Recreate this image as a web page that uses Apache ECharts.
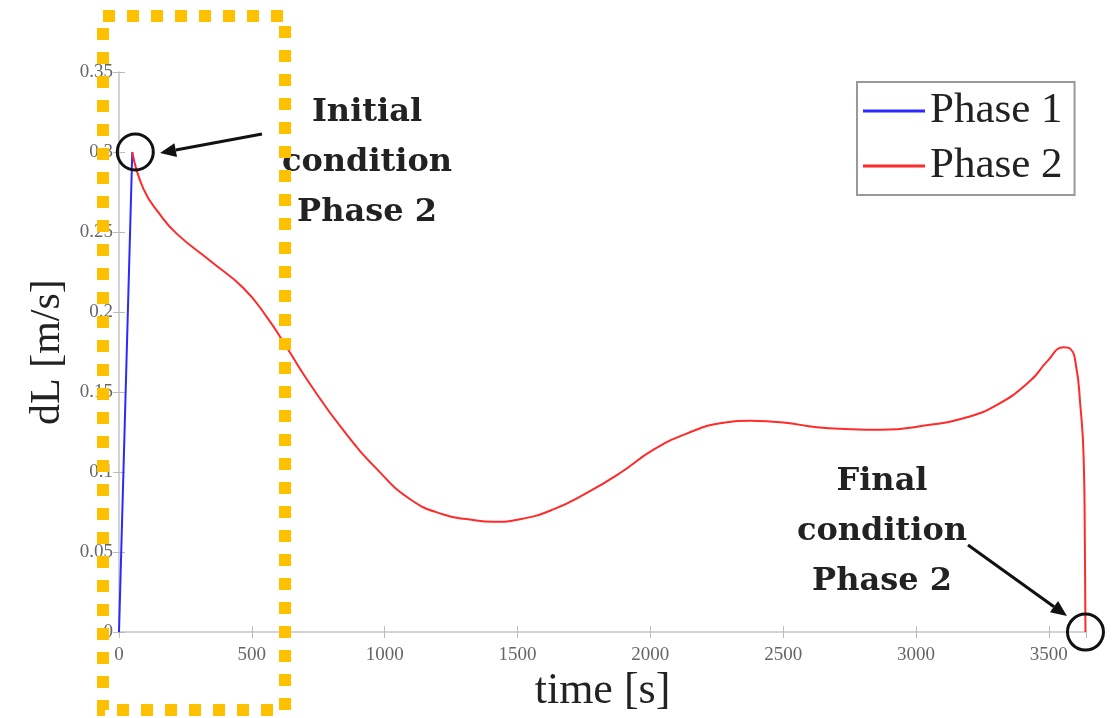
<!DOCTYPE html>
<html>
<head>
<meta charset="utf-8">
<script src="https://cdn.jsdelivr.net/npm/echarts@6/dist/echarts.min.js"></script>
<style>
  html, body { margin: 0; padding: 0; background: #fff; }
  #chart { width: 1119px; height: 718px; }
</style>
</head>
<body>
<div id="chart"></div>
<script>
// phase 1: ramp up
const phase1Time = [0, 50]
const phase1Speed = [0, 0.3]

// phase 2
const phase2Time = [50, 92, 154, 217, 343, 468, 556, 631, 719, 845, 970, 1096, 1221, 1322, 1409, 1510,
  1635, 1761, 1886, 2012, 2137, 2263, 2376, 2501, 2627, 2752, 2865, 3053, 3179, 3305, 3430, 3493,
  3556, 3581, 3603, 3618, 3631, 3636, 3638]
const phase2Speed = [0.3, 0.277, 0.261, 0.249, 0.232, 0.215, 0.197, 0.178, 0.155, 0.126, 0.102, 0.083, 0.0735, 0.0703, 0.0689, 0.0705,
  0.0767, 0.087, 0.0994, 0.114, 0.124, 0.1305, 0.132, 0.131, 0.128, 0.1268, 0.1264, 0.1295, 0.1336, 0.142, 0.157, 0.169,
  0.178, 0.177, 0.166, 0.143, 0.11, 0.05, 0]

const seriesNames = ['Phase 1', 'Phase 2']
const initialNote = ['Initial', 'condition', 'Phase 2']
const finalNote = ['Final', 'condition', 'Phase 2']

const zip = (xs, ys) => xs.map((x, i) => [x, ys[i]])

const serif = 'Liberation Serif'
const boxColor = '#cfcfcf'

let chart = echarts.init(document.getElementById('chart'))

const hiddenAxis = {
  axisLine: { show: true, lineStyle: { color: boxColor, width: 1.5 } },
  axisTick: { show: true, inside: true, length: 6, lineStyle: { color: '#bbb' } },
  axisLabel: { show: false },
  splitLine: { show: false },
}

chart.setOption({
  backgroundColor: '#fff',
  animation: false,
  grid: { left: 119, right: 33, top: 72, bottom: 81 },
  legend: {
    data: seriesNames,
    orient: 'vertical',
    left: 857,
    top: 82,
    icon: 'rect',
    itemWidth: 62,
    itemHeight: 3,
    itemGap: 7,
    padding: [5, 12, 5, 6],
    borderColor: '#999',
    borderWidth: 2,
    backgroundColor: '#fff',
    textStyle: { fontFamily: serif, fontSize: 43, lineHeight: 48, color: '#222' },
  },
  xAxis: [
    {
      type: 'value',
      min: 0,
      max: 3640,
      interval: 500,
      name: 'time [s]',
      nameLocation: 'middle',
      nameGap: 34,
      nameTextStyle: { fontFamily: serif, fontSize: 44, color: '#222', verticalAlign: 'top' },
      axisLine: { show: true, lineStyle: { color: boxColor, width: 1.5 } },
      axisTick: { show: true, inside: true, length: 6, lineStyle: { color: '#bbb' } },
      axisLabel: {
        fontFamily: serif, fontSize: 19, color: '#666', margin: 13, showMaxLabel: false,
        formatter: (v) => String(v),
      },
      splitLine: { show: false },
    },
    Object.assign({ type: 'value', min: 0, max: 3640, interval: 500, position: 'top' }, hiddenAxis),
  ],
  yAxis: [
    {
      type: 'value',
      min: 0,
      max: 0.35,
      interval: 0.05,
      name: 'dL [m/s]',
      nameLocation: 'middle',
      nameGap: 50,
      nameTextStyle: { fontFamily: serif, fontSize: 42, color: '#222' },
      axisLine: { show: true, lineStyle: { color: boxColor, width: 1.5 } },
      axisTick: { show: true, inside: true, length: 6, lineStyle: { color: '#bbb' } },
      axisLabel: { fontFamily: serif, fontSize: 19, color: '#666', margin: 6 },
      splitLine: { show: false },
    },
    Object.assign({ type: 'value', min: 0, max: 0.35, interval: 0.05, position: 'right' }, hiddenAxis),
  ],
  series: [
    {
      name: seriesNames[0],
      type: 'line',
      data: zip(phase1Time, phase1Speed),
      symbol: 'none',
      color: '#2a2aff',
      lineStyle: { width: 2 },
    },
    {
      name: seriesNames[1],
      type: 'line',
      data: zip(phase2Time, phase2Speed),
      symbol: 'none',
      smooth: 0.5,
      color: '#ff2a2a',
      lineStyle: { width: 2 },
    },
  ],
})

// annotations: circles on the first / last point of phase 2, arrows, notes, orange box
function arrow(x1, y1, x2, y2) {
  let a = Math.atan2(y2 - y1, x2 - x1)
  let len = 16, half = 7
  let bx = x2 - len * Math.cos(a), by = y2 - len * Math.sin(a)
  let px = -Math.sin(a) * half, py = Math.cos(a) * half
  return [
    { type: 'line', z: 50, shape: { x1: x1, y1: y1, x2: bx, y2: by }, style: { stroke: '#111', lineWidth: 3 } },
    { type: 'polygon', z: 50, shape: { points: [[x2, y2], [bx + px, by + py], [bx - px, by - py]] }, style: { fill: '#111' } },
  ]
}

let startPt = chart.convertToPixel({ gridIndex: 0 }, [phase2Time[0], phase2Speed[0]])
let endPt = chart.convertToPixel({ gridIndex: 0 }, [phase2Time[phase2Time.length - 1], phase2Speed[phase2Speed.length - 1]])

const noteFont = 'bold 32px "DejaVu Serif"'

chart.setOption({
  graphic: [
    { type: 'circle', z: 50, shape: { cx: startPt[0] + 3, cy: startPt[1], r: 18 }, style: { fill: 'none', stroke: '#111', lineWidth: 3 } },
    { type: 'circle', z: 50, shape: { cx: endPt[0], cy: endPt[1], r: 18 }, style: { fill: 'none', stroke: '#111', lineWidth: 3 } },
    ...arrow(262, 134, 160, 153),
    ...arrow(968, 545, 1067, 616),
    {
      type: 'text', z: 50, x: 367, y: 88,
      style: { text: initialNote.join('\n'), font: noteFont, fill: '#222', align: 'center', verticalAlign: 'top', lineHeight: 50 },
    },
    {
      type: 'text', z: 50, x: 882, y: 457,
      style: { text: finalNote.join('\n'), font: noteFont, fill: '#222', align: 'center', verticalAlign: 'top', lineHeight: 50 },
    },
    {
      type: 'rect', z: 60, shape: { x: 103, y: 16, width: 182, height: 694 },
      style: { fill: 'none', stroke: '#ffc000', lineWidth: 12, lineDash: [12, 12] },
    },
  ],
})
</script>
</body>
</html>
